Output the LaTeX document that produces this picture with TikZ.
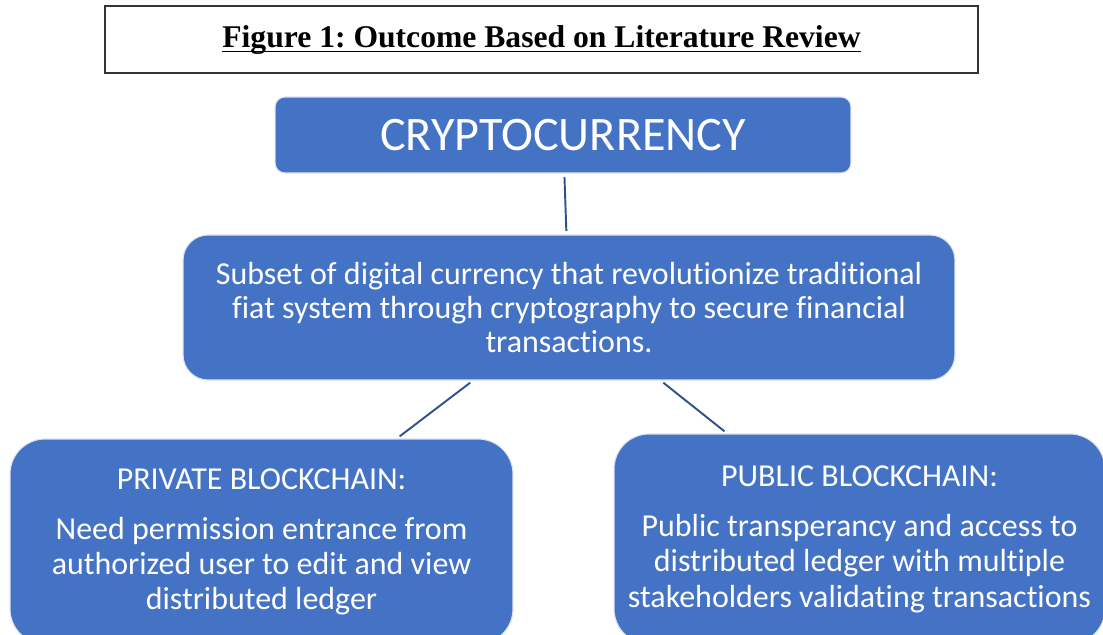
\documentclass[tikz,border=0pt]{standalone}
\usepackage{amsmath}
\usepackage{fontspec}
\setmainfont{Carlito}[Ligatures=NoCommon]
\newfontfamily\titlefont{Liberation Serif}
\usetikzlibrary{positioning}
\definecolor{boxblue}{HTML}{4472C4}
\definecolor{lineblue}{HTML}{2F528F}
\frenchspacing

\begin{document}
\begin{tikzpicture}[x=0.02cm, y=-0.02cm,
    block/.style = {rectangle, fill=boxblue, draw=white!80!boxblue, line width=0.6pt,
                    text=white, align=center, inner sep=0pt},
    link/.style = {draw=lineblue, line width=1.1pt, shorten <=2pt, shorten >=2pt}]
    \clip (0,0) rectangle (1103,635);
    \fill[white] (0,0) rectangle (1103,635);

    \node [draw=black!80, line width=0.8pt, minimum width=17.46cm, minimum height=1.34cm,
           font=\titlefont\bfseries\fontsize{18}{20}\selectfont] (title) at (541.5,39.5)
          {\underline{\smash[b]{Figure 1: Outcome Based on Literature Review}}};

    \node [block, rounded corners=0.2cm, minimum width=11.52cm, minimum height=1.52cm,
           font=\fontsize{27.4}{30}\selectfont] (crypto) at (563,135) {CRYPTOCURRENCY};

    \node [block, rounded corners=0.5cm, minimum width=15.44cm, minimum height=2.9cm,
           font=\fontsize{18.2}{19.3}\selectfont] (subset) at (569,307.5)
          {Subset of digital currency that revolutionize traditional\\
           fiat system through cryptography to secure financial\\
           transactions.};

    \node [block, rounded corners=0.7cm, minimum width=10.06cm, minimum height=4.1cm,
           font=\fontsize{18.2}{19.9}\selectfont] (private) at (261.5,541.5)
          {PRIVATE BLOCKCHAIN:\\[8.5pt]
           Need permission entrance from\\
           authorized user to edit and view\\
           distributed ledger};

    \node [block, rounded corners=0.7cm, minimum width=9.82cm, minimum height=4.2cm,
           font=\fontsize{18.2}{20.1}\selectfont] (public) at (859.5,539)
          {PUBLIC BLOCKCHAIN:\\[8.5pt]
           Public transperancy and access to\\
           distributed ledger with multiple\\
           stakeholders validating transactions};

    \path[link]
    (crypto) edge (subset)
    (subset) edge (private)
    (subset) edge (public);
\end{tikzpicture}
\end{document}
